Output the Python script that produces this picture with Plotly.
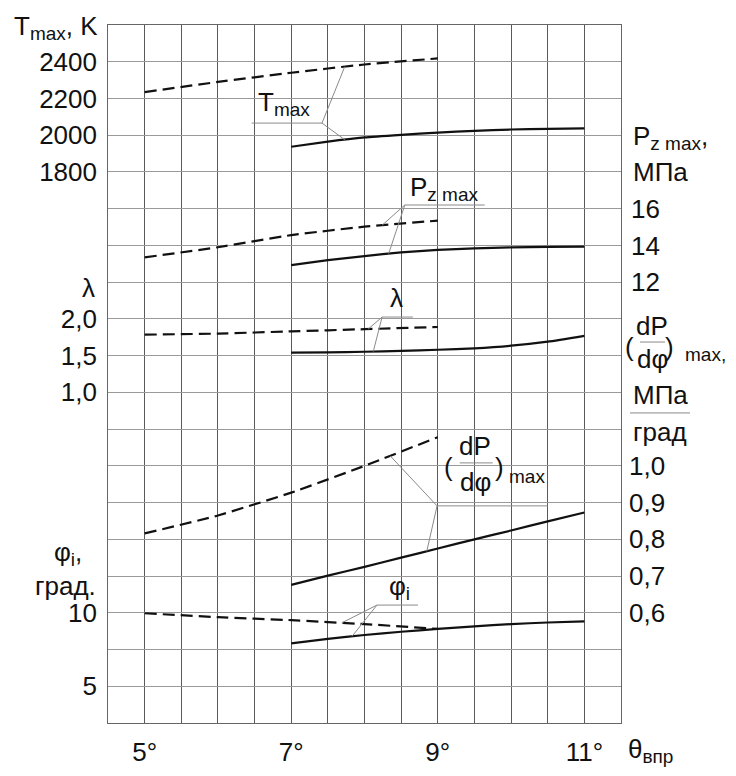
import numpy as np
import plotly.graph_objects as go

# ---------------- data ----------------
theta_dash = [5, 6, 7, 8, 9]
theta_solid = [7, 7.5, 8, 8.5, 9, 9.5, 10, 10.5, 11]

tmax_dash = [2235, 2290, 2340, 2385, 2418]
tmax_solid = [1937, 1965, 1988, 2002, 2014, 2024, 2031, 2035, 2037]

pz_dash = [13.35, 13.9, 14.56, 15.02, 15.35]
pz_solid = [12.93, 13.2, 13.42, 13.62, 13.76, 13.84, 13.89, 13.92, 13.93]

lam_dash = [1.785, 1.80, 1.83, 1.86, 1.89]
lam_solid = [1.54, 1.545, 1.553, 1.565, 1.58, 1.60, 1.635, 1.69, 1.77]

dpdphi_dash = [0.816, 0.865, 0.927, 1.0, 1.078]
dpdphi_solid = [0.676, 0.701, 0.725, 0.750, 0.775, 0.800, 0.824, 0.849, 0.873]

phi_dash = [9.97, 9.7, 9.5, 9.23, 8.9]
phi_solid = [7.92, 8.22, 8.49, 8.71, 8.9, 9.08, 9.23, 9.34, 9.42]

x_ticks = [5, 7, 9, 11]
x_ticktext = ["5°", "7°", "9°", "11°"]
t_ticks = [1800, 2000, 2200, 2400]
pz_ticks = [12, 14, 16]
lam_ticks = [1.0, 1.5, 2.0]
lam_ticktext = ["1,0", "1,5", "2,0"]
dp_ticks = [0.6, 0.7, 0.8, 0.9, 1.0]
dp_ticktext = ["0,6", "0,7", "0,8", "0,9", "1,0"]
phi_ticks = [5, 10]

# ---------------- scales (grid units k = 0..19) ----------------
NK = 19
# value = v0 + step*(k - k0)
scales = {
    "T": (1800, 200, 15),
    "Pz": (12, 2, 12),
    "lam": (1.0, 0.5, 9),
    "dp": (0.6, 0.1, 3),
    "phi": (5, 2.5, 1),
}


def rng(key):
    v0, st, k0 = scales[key]
    return [v0 - st * k0, v0 + st * (NK - k0)]


def to_k(key, vals):
    v0, st, k0 = scales[key]
    return k0 + (np.asarray(vals, dtype=float) - v0) / st


FONT = "Liberation Sans, Arial, sans-serif"
BLACK = "#111"
FS = 26
FSUB = 19

fig = go.Figure()

series = [
    ("T", "y2", tmax_dash, tmax_solid),
    ("Pz", "y3", pz_dash, pz_solid),
    ("lam", "y4", lam_dash, lam_solid),
    ("dp", "y5", dpdphi_dash, dpdphi_solid),
    ("phi", "y6", phi_dash, phi_solid),
]
for key, ax, yd, ys in series:
    fig.add_trace(go.Scatter(x=theta_dash, y=yd, yaxis=ax, mode="lines",
                             line=dict(color=BLACK, width=2.2, dash="12px,6px", shape="spline", smoothing=0.5),
                             showlegend=False, hoverinfo="skip"))
    fig.add_trace(go.Scatter(x=theta_solid, y=ys, yaxis=ax, mode="lines",
                             line=dict(color=BLACK, width=2.2, shape="spline", smoothing=0.5),
                             showlegend=False, hoverinfo="skip"))

# ---------------- axes ----------------
# the page body adds an 8px offset; margins compensate so the plot area sits at x 108..621, y 25..723
grid_x = list(np.arange(4.5, 11.51, 0.5))
fig.update_layout(
    width=736, height=776,
    margin=dict(l=100, r=123, t=17, b=61, autoexpand=False),
    plot_bgcolor="white", paper_bgcolor="white",
    font=dict(family=FONT, size=FS, color=BLACK),
    xaxis=dict(range=[4.5, 11.5], tickvals=grid_x,
               ticktext=[dict(zip(x_ticks, x_ticktext)).get(v, "") for v in grid_x],
               showgrid=True, gridcolor="#5a5a5a", gridwidth=1, zeroline=False,
               showline=True, linecolor="#666", linewidth=1, mirror=True,
               ticks="", ticklabelstandoff=6, automargin=False,
               tickfont=dict(size=FS, color=BLACK)),
    yaxis=dict(range=[0, NK], dtick=1, tick0=0, showgrid=True, gridcolor="#9a9a9a", gridwidth=1,
               zeroline=False, showticklabels=False, ticks="", automargin=False,
               showline=True, linecolor="#666", linewidth=1, mirror=True),
)

common = dict(overlaying="y", anchor="x", showgrid=False, zeroline=False, showline=False,
              ticks="", tickfont=dict(size=FS, color=BLACK), automargin=False)
fig.update_layout(
    yaxis2=dict(side="left", range=rng("T"), tickvals=t_ticks, ticklabelstandoff=10, **common),
    yaxis3=dict(side="right", range=rng("Pz"), tickvals=pz_ticks, ticklabelstandoff=9, **common),
    yaxis4=dict(side="left", range=rng("lam"), tickvals=lam_ticks, ticktext=lam_ticktext,
                ticklabelstandoff=10, **common),
    yaxis5=dict(side="right", range=rng("dp"), tickvals=dp_ticks, ticktext=dp_ticktext,
                ticklabelstandoff=7, **common),
    yaxis6=dict(side="left", range=rng("phi"), tickvals=phi_ticks, ticklabelstandoff=10, **common),
)

# ---------------- leader lines ----------------
LEAD = dict(color="#8a8a8a", width=1)


def curve_k(key, xs, ys, xq):
    return float(np.interp(xq, xs, to_k(key, ys)))


def leader(key, yd, ys, hub, hend, xd, xs):
    hx, hk = hub
    fig.add_shape(type="line", x0=hx, y0=hk, x1=hend, y1=hk, xref="x", yref="y", line=LEAD)
    fig.add_shape(type="line", x0=hx, y0=hk, x1=xd, y1=curve_k(key, theta_dash, yd, xd),
                  xref="x", yref="y", line=LEAD)
    fig.add_shape(type="line", x0=hx, y0=hk, x1=xs, y1=curve_k(key, theta_solid, ys, xs),
                  xref="x", yref="y", line=LEAD)


leader("T", tmax_dash, tmax_solid, (7.42, 16.33), 6.46, 7.73, 7.73)
leader("Pz", pz_dash, pz_solid, (8.55, 14.10), 9.64, 8.24, 8.33)
leader("lam", lam_dash, lam_solid, (8.24, 11.05), 8.66, 8.05, 8.12)
leader("dp", dpdphi_dash, dpdphi_solid, (8.99, 5.91), 10.50, 8.35, 8.85)
leader("phi", phi_dash, phi_solid, (8.17, 3.21), 8.73, 7.69, 7.83)


def ann(text, x, y, xref="x", yref="y", xanchor="center", yanchor="middle", size=FS):
    fig.add_annotation(text=text, x=x, y=y, xref=xref, yref=yref, xanchor=xanchor,
                       yanchor=yanchor, showarrow=False, font=dict(family=FONT, size=size, color=BLACK))


SUB = "<sub><span style='font-size:%dpx'>%%s</span></sub>" % FSUB

# in-plot labels
ann("T" + SUB % "max", 6.52, 16.85, xanchor="left")
ann("P" + SUB % "z max", 8.60, 14.55, xanchor="left")
ann("λ", 8.44, 11.57)
ann("φ" + SUB % "i", 8.48, 3.70)
ann("(", 9.15, 6.97)
ann("dP", 9.51, 7.53)
ann("dφ", 9.51, 6.55)
ann(")", 9.84, 6.97)
ann("max", 9.95, 6.70, xanchor="left", size=FSUB)
fig.add_shape(type="line", x0=9.30, x1=9.75, y0=7.08, y1=7.08, xref="x", yref="y",
              line=dict(color="#8a8a8a", width=1))


def px(p):
    return (p - 108) / 513.0


# left axis titles
ann("T" + SUB % "max" + ", K", px(100), 18.92, xref="paper", xanchor="right")
ann("λ", px(97), 11.84, xref="paper", xanchor="right")
ann("φ" + SUB % "i" + ",", px(84), 4.62, xref="paper", xanchor="right")
ann("град.", px(98), 3.73, xref="paper", xanchor="right")

# right axis titles
ann("P" + SUB % "z max" + ",", px(631), 15.95, xref="paper", xanchor="left")
ann("МПа", px(631), 15.0, xref="paper", xanchor="left")
ann("(", px(629), 10.23, xref="paper")
ann("dP", px(652), 10.80, xref="paper")
ann("dφ", px(652), 9.90, xref="paper")
ann(")", px(669), 10.23, xref="paper")
ann("max,", px(683), 10.03, xref="paper", xanchor="left", size=FSUB)
fig.add_shape(type="line", x0=px(640), x1=px(665), y0=10.37, y1=10.37, xref="paper", yref="y",
              line=dict(color="#8a8a8a", width=1))
ann("МПа", px(631), 8.93, xref="paper", xanchor="left")
fig.add_shape(type="line", x0=px(630), x1=px(690), y0=8.44, y1=8.44, xref="paper", yref="y",
              line=dict(color="#8a8a8a", width=1))
ann("град", px(631), 7.92, xref="paper", xanchor="left")

# x axis title
ann("θ" + SUB % "впр", px(626), -0.75 / NK, xref="paper", yref="paper", xanchor="left")

fig.write_html("out.html")
